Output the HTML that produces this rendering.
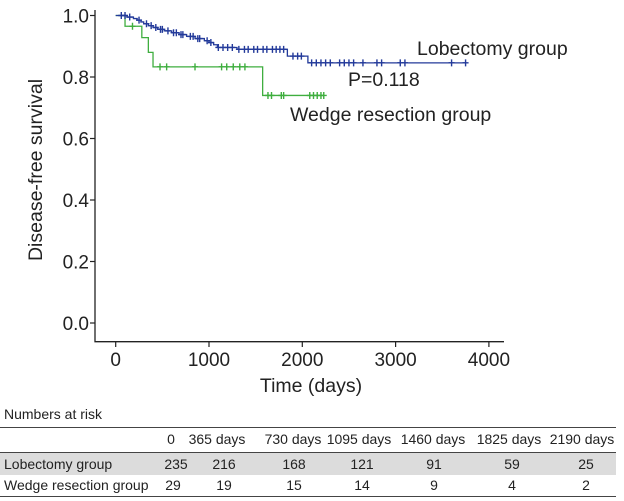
<!DOCTYPE html>
<html><head><meta charset="utf-8">
<style>
body{margin:0;width:624px;height:501px;background:#fff;font-family:"Liberation Sans",Arial,sans-serif;overflow:hidden;position:relative}
.t{position:absolute;white-space:nowrap}
.c{position:absolute;white-space:nowrap;transform:translateX(-50%);font-size:14px;color:#222}
.l{position:absolute;white-space:nowrap;font-size:14px;color:#222;left:4px}
.hl{position:absolute;left:0;width:616px;height:1px;background:#444}
</style></head><body>
<svg width="624" height="400" style="position:absolute;left:0;top:0" id="chart"></svg>
<div class="t" style="left:4px;top:406px;font-size:14px;color:#222">Numbers at risk</div>
<div>
<div class="hl" style="top:427px"></div>
<div style="position:absolute;left:0;top:452px;width:616px;height:23px;background:#dcdcdc"></div>
<div class="hl" style="top:452px"></div>
<div class="hl" style="top:496px"></div>
<div>
<span class="c" style="left:171px;top:431px">0</span><span class="c" style="left:217px;top:431px">365 days</span><span class="c" style="left:293px;top:431px">730 days</span><span class="c" style="left:359px;top:431px">1095 days</span><span class="c" style="left:433px;top:431px">1460 days</span><span class="c" style="left:509px;top:431px">1825 days</span><span class="c" style="left:582px;top:431px">2190 days</span>
</div>
<div>
<span class="l" style="top:456px">Lobectomy group</span>
<span class="c" style="left:176px;top:456px">235</span><span class="c" style="left:224px;top:456px">216</span><span class="c" style="left:294px;top:456px">168</span><span class="c" style="left:362px;top:456px">121</span><span class="c" style="left:434px;top:456px">91</span><span class="c" style="left:512px;top:456px">59</span><span class="c" style="left:586px;top:456px">25</span>
</div>
<div>
<span class="l" style="top:477px">Wedge resection group</span>
<span class="c" style="left:173px;top:477px">29</span><span class="c" style="left:224px;top:477px">19</span><span class="c" style="left:294px;top:477px">15</span><span class="c" style="left:362px;top:477px">14</span><span class="c" style="left:434px;top:477px">9</span><span class="c" style="left:512px;top:477px">4</span><span class="c" style="left:586px;top:477px">2</span>
</div>
</div>
<script>
const xTicks=[0,1000,2000,3000,4000];
const yTicks=[0,0.2,0.4,0.6,0.8,1.0];
const lobTimes=[0,120,190,230,270,300,350,400,450,520,600,680,760,850,950,1000,1050,1090,1300,1840,2060];
const lobSurv=[1.0,0.995,0.99,0.985,0.979,0.973,0.967,0.961,0.955,0.95,0.944,0.938,0.932,0.925,0.918,0.912,0.905,0.896,0.89,0.868,0.846];
const lobEnd=3750;
const lobCensor=[60,100,150,250,330,380,430,480,500,560,620,650,700,720,800,830,880,900,980,1020,1100,1150,1200,1250,1320,1380,1420,1480,1520,1580,1620,1680,1720,1760,1800,1900,1950,1990,2100,2150,2200,2250,2300,2400,2450,2500,2550,2650,2800,2850,3050,3100,3600,3750];
const wedTimes=[0,100,280,350,400,1575];
const wedSurv=[1.0,0.965,0.928,0.88,0.833,0.74];
const wedEnd=2230;
const wedCensor=[180,475,546,850,1135,1190,1260,1330,1385,1632,1670,1775,1800,2080,2120,2160,2200,2230];
const X=t=>115.7+t*0.0933, Y=s=>323-s*307.5;
const svg=document.getElementById('chart');const NS='http://www.w3.org/2000/svg';
function mk(tag,a,p){const e=document.createElementNS(NS,tag);for(const k in a)e.setAttribute(k,a[k]);(p||svg).appendChild(e);return e;}
let e=mk('path',{d:'M95,10V341.7H504',fill:'none',stroke:'#222','stroke-width':1.3});


xTicks.forEach(v=>{const l=mk('line',{x1:X(v),x2:X(v),y1:341.7,y2:347,stroke:'#222','stroke-width':1.2});


const tx=mk('text',{x:X(v),y:366,'text-anchor':'middle','font-size':19,fill:'#222'});tx.textContent=v;

});
yTicks.forEach(v=>{const l=mk('line',{x1:90,x2:95,y1:Y(v),y2:Y(v),stroke:'#222','stroke-width':1.2});


const tx=mk('text',{x:89,y:Y(v)+7,'text-anchor':'end','font-size':19,fill:'#222'});tx.textContent=v.toFixed(1);

});
function curve(times,surv,end,cens,col,name){
 let d='M'+X(times[0])+','+Y(surv[0]);
 for(let i=1;i<times.length;i++)d+='H'+X(times[i])+'V'+Y(surv[i]);
 d+='H'+X(end);
 const p=mk('path',{d,fill:'none',stroke:col,'stroke-width':1.3});
 
 
 cens.forEach(t=>{let s=surv[0];for(let i=0;i<times.length;i++)if(times[i]<=t)s=surv[i];
  const c=mk('path',{d:`M${X(t)-3},${Y(s)}h6M${X(t)},${Y(s)-3.5}v7`,stroke:col,'stroke-width':1.4});
  
  });
}
curve(wedTimes,wedSurv,wedEnd,wedCensor,'#3fae3f','wedge');
curve(lobTimes,lobSurv,lobEnd,lobCensor,'#233a9a','lobectomy');
function lab(x,y,s,txt,name,extra){const t=mk('text',Object.assign({x,y,'font-size':s,fill:'#222'},extra||{}));t.textContent=txt;

}
lab(417,55,19.5,'Lobectomy group','legend-lobectomy');
lab(348,86,19.5,'P=0.118','p-value');
lab(290,121,19.5,'Wedge resection group','legend-wedge');
lab(311,392,19.5,'Time (days)','x-axis-title',{'text-anchor':'middle'});
lab(0,0,19.5,'Disease-free survival','y-axis-title',{'text-anchor':'middle',transform:'translate(42,170) rotate(-90)'});
</script>
</body></html>
